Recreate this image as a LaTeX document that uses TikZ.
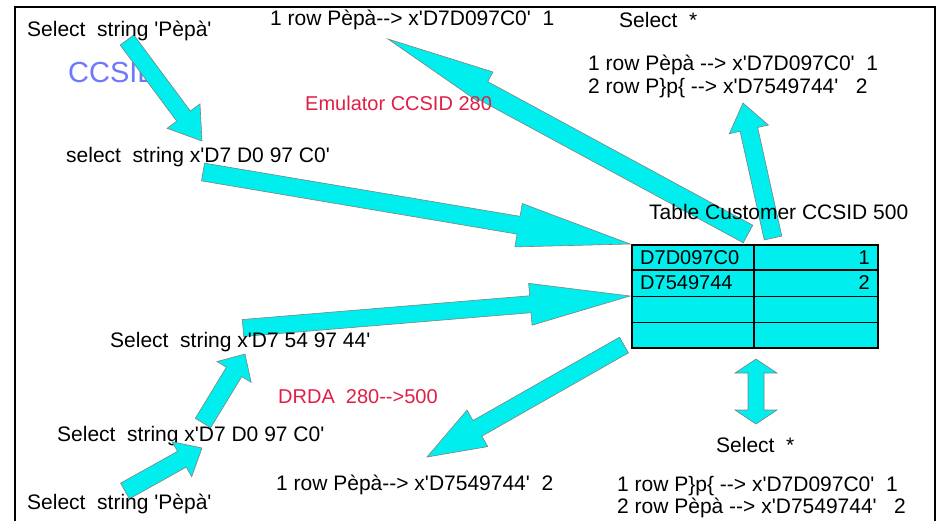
\documentclass[tikz,border=0pt]{standalone}
\usepackage{fontspec}
\setmainfont{Liberation Sans}[Ligatures=TeXOff]
\usetikzlibrary{calc}
\definecolor{fillcyan}{RGB}{0,238,238}
\definecolor{txtred}{RGB}{225,30,70}
\definecolor{txtblue}{RGB}{110,120,250}
\tikzset{
  lbl/.style={anchor=west, inner sep=0pt, font=\fontsize{21}{24}\selectfont},
  redlbl/.style={lbl, text=txtred, font=\fontsize{20}{24}\selectfont},
  fatarrowstyle/.style={fill=fillcyan, draw=gray, line width=0.6pt, line join=miter},
  tablestyle/.style={draw=black, fill=fillcyan, line width=1.3pt, inner sep=0pt},
}
% #1 tail, #2 tip, #3 shaft half width, #4 head length, #5 / #6 head half widths
\newcommand{\fatarrow}[6]{%
  \coordinate (hb) at ($(#2)!#4!(#1)$);
  \filldraw[fatarrowstyle]
    ($(#1)!#3!90:(#2)$) -- ($(hb)!#3!90:(#2)$) -- ($(hb)!#5!90:(#2)$) -- (#2)
    -- ($(hb)!#6!-90:(#2)$) -- ($(hb)!#3!-90:(#2)$) -- ($(#1)!#3!-90:(#2)$) -- cycle;
}
\begin{document}
\begin{tikzpicture}[x=1pt,y=-1pt]
\useasboundingbox (0,0) rectangle (944,520);
\fill[white] (0,0) rectangle (944,520);
\draw[line width=2pt] (15,530) -- (15,7) -- (935,7) -- (935,530);

% texts under the arrows
\node[lbl, text=txtblue, font=\fontsize{29}{32}\selectfont] (ccsid) at (68,73) {CCSID};
\node[lbl] (t7) at (66,157) {select\ \ string x'D7 D0 97 C0'};
\node[lbl] (t11) at (57,436) {Select\ \ string x'D7 D0 97 C0'};

% table
\node[tablestyle, minimum width=246pt, minimum height=103pt] (tbl) at (755,296.5) {};
\draw[line width=1.3pt]
  ($(tbl.north west)!0.245!(tbl.south west)$) -- ($(tbl.north east)!0.245!(tbl.south east)$)
  ($(tbl.north west)!0.5!(tbl.south west)$) -- ($(tbl.north east)!0.5!(tbl.south east)$)
  ($(tbl.north west)!0.75!(tbl.south west)$) -- ($(tbl.north east)!0.75!(tbl.south east)$)
  ($(tbl.north west)!0.496!(tbl.north east)$) -- ($(tbl.south west)!0.496!(tbl.south east)$);
\node[lbl, font=\fontsize{20}{24}\selectfont] (c11) at (640,258) {D7D097C0};
\node[lbl, anchor=east, font=\fontsize{20}{24}\selectfont] (c12) at (870,258) {1};
\node[lbl, font=\fontsize{20}{24}\selectfont] (c21) at (640,283) {D7549744};
\node[lbl, anchor=east, font=\fontsize{20}{24}\selectfont] (c22) at (870,283) {2};

% arrow end points
\coordinate (a1t) at (127,40);  \coordinate (a1h) at (202,141);
\coordinate (a2t) at (203,172); \coordinate (a2h) at (630,244);
\coordinate (a3t) at (748,234); \coordinate (a3h) at (388,39);
\coordinate (a4t) at (773,238); \coordinate (a4h) at (743,103);
\coordinate (a5t) at (243,328); \coordinate (a5h) at (630,296);
\coordinate (a6t) at (203,423); \coordinate (a6h) at (245,354);
\coordinate (a7t) at (125,491); \coordinate (a7h) at (202,448);
\coordinate (a8t) at (624,345); \coordinate (a8h) at (427,457);

\fatarrow{a1t}{a1h}{8.5pt}{31pt}{20.5pt}{20.5pt}
\fatarrow{a2t}{a2h}{9pt}{113pt}{22pt}{22pt}
\fatarrow{a3t}{a3h}{10pt}{108pt}{12pt}{21pt}
\fatarrow{a4t}{a4h}{9pt}{27pt}{20pt}{20pt}
\fatarrow{a5t}{a5h}{8.5pt}{100pt}{21pt}{21pt}
\fatarrow{a6t}{a6h}{9pt}{21pt}{20pt}{20pt}
\fatarrow{a7t}{a7h}{9pt}{23pt}{20pt}{20pt}
\fatarrow{a8t}{a8h}{9pt}{58pt}{21pt}{21pt}

% double arrow below the table
\coordinate (d1) at (756,359); \coordinate (d2) at (756,424);
\filldraw[fatarrowstyle]
  (d1) -- ++(21,14) -- ++(-13,0) -- ++(0,37) -- ++(13,0) -- (d2)
  -- ++(-21,-14) -- ++(13,0) -- ++(0,-37) -- ++(-13,0) -- cycle;

% texts above the arrows
\node[lbl] (t1) at (27,31) {Select\ \ string 'Pèpà'};
\node[lbl] (t2) at (270,20) {1 row Pèpà--> x'D7D097C0'\ \ 1};
\node[lbl] (t3) at (619,20) {Select\ \ *};
\node[lbl] (t4) at (588,65) {1 row Pèpà --> x'D7D097C0'\ \ 1};
\node[lbl] (t5) at (588,88) {2 row P\}p\{ --> x'D7549744'\ \ \ 2};
\node[redlbl] (t6) at (305,103) {Emulator CCSID 280};
\node[lbl] (t8) at (649,212) {Table Customer CCSID 500};
\node[lbl] (t9) at (110,342) {Select\ \ string x'D7 54 97 44'};
\node[redlbl] (t10) at (278,397) {DRDA\ \ 280-->500};
\node[lbl] (t12) at (27,504) {Select\ \ string 'Pèpà'};
\node[lbl] (t13) at (276,485) {1 row Pèpà--> x'D7549744'\ \ 2};
\node[lbl] (t14) at (716,445) {Select\ \ *};
\node[lbl] (t15) at (617,486) {1 row P\}p\{ --> x'D7D097C0'\ \ 1};
\node[lbl] (t16) at (617,508) {2 row Pèpà --> x'D7549744'\ \ \ 2};
\end{tikzpicture}
\end{document}
